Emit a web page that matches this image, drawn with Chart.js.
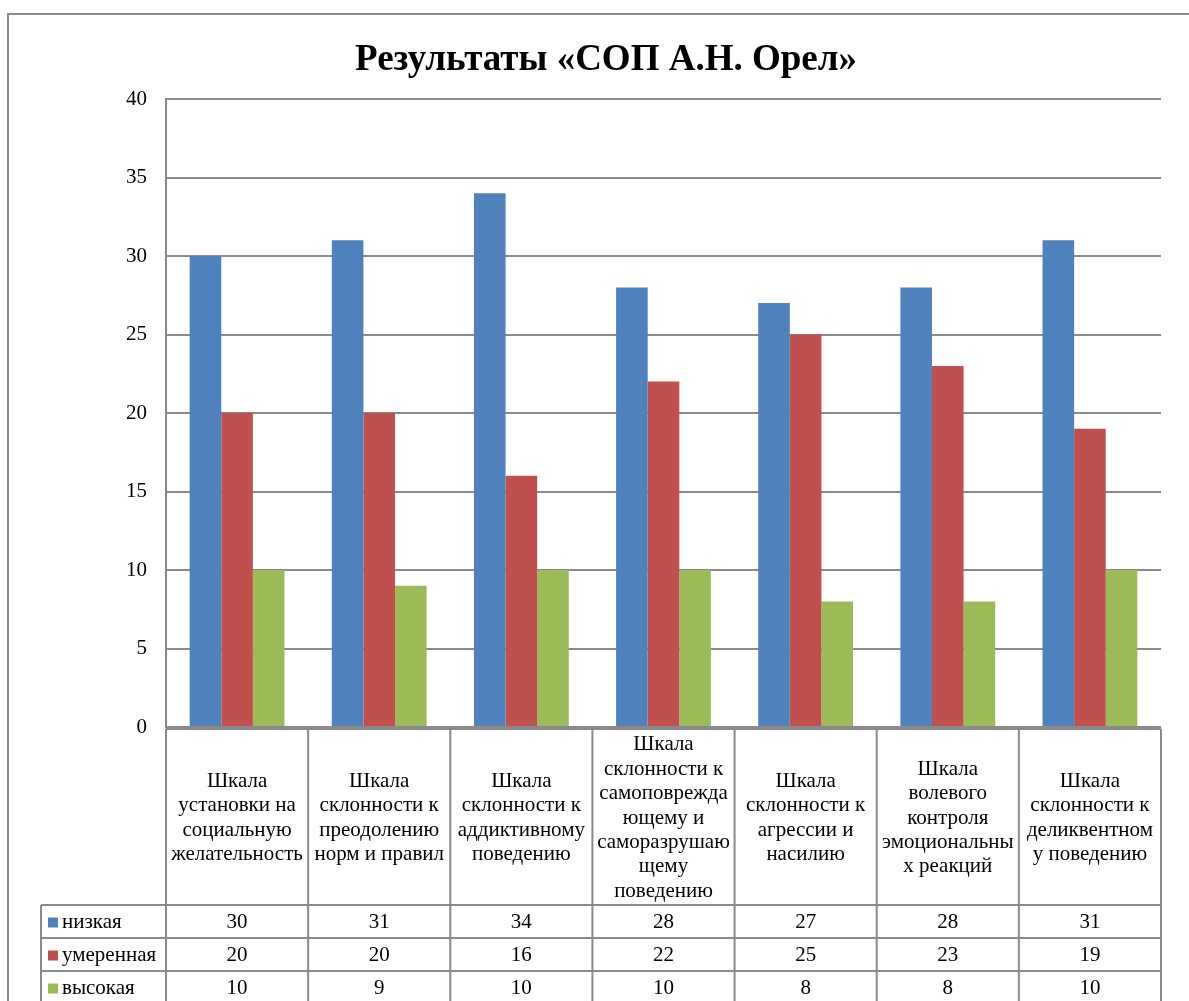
<!DOCTYPE html>
<html>
<head>
<meta charset="utf-8">
<script src="https://cdn.jsdelivr.net/npm/chart.js@4"></script>
<style>
  html, body { margin: 0; padding: 0; background: #fff; }
  #wrap { width: 1189px; height: 1001px; }
</style>
</head>
<body>
<div id="wrap"><canvas id="chart" width="1189" height="1001"></canvas></div>
<script>
var chartTitle = 'Результаты «СОП А.Н. Орел»';

var categories = [
  ['Шкала', 'установки на', 'социальную', 'желательность'],
  ['Шкала', 'склонности к', 'преодолению', 'норм и правил'],
  ['Шкала', 'склонности к', 'аддиктивному', 'поведению'],
  ['Шкала', 'склонности к', 'самоповрежда', 'ющему и', 'саморазрушаю', 'щему', 'поведению'],
  ['Шкала', 'склонности к', 'агрессии и', 'насилию'],
  ['Шкала', 'волевого', 'контроля', 'эмоциональны', 'х реакций'],
  ['Шкала', 'склонности к', 'деликвентном', 'у поведению']
];

var seriesNames = ['низкая', 'умеренная', 'высокая'];
var lowValues = [30, 31, 34, 28, 27, 28, 31];
var moderateValues = [20, 20, 16, 22, 25, 23, 19];
var highValues = [10, 9, 10, 10, 8, 8, 10];

var seriesColors = ['#4F81BD', '#C0504D', '#9BBB59'];
var lineColor = '#8a8a8a';
var fontFamily = "'Liberation Serif', 'Times New Roman', serif";

// title, outer frame and the data table under the plot
var tablePlugin = {
  id: 'dataTable',
  afterDraw: function(chart) {
    var ctx = chart.ctx;
    var xs = chart.scales.x;
    var area = chart.chartArea;
    var n = categories.length;
    var half = (xs.getPixelForValue(1) - xs.getPixelForValue(0)) / 2;
    var headTop = area.bottom + 2;
    var headBottom = 905;
    var rowH = 33;
    var legendLeft = 41;

    ctx.save();
    ctx.strokeStyle = lineColor;
    ctx.lineWidth = 2;

    // outer frame
    ctx.beginPath();
    ctx.moveTo(8, 1001);
    ctx.lineTo(8, 14);
    ctx.lineTo(1189, 14);
    ctx.stroke();

    // title
    ctx.fillStyle = '#000';
    ctx.font = 'bold 37px ' + fontFamily;
    ctx.textAlign = 'center';
    ctx.textBaseline = 'middle';
    ctx.fillText(chartTitle, 606, 60);

    // table lines
    ctx.beginPath();
    ctx.moveTo(area.left, headTop);
    ctx.lineTo(area.right, headTop);
    ctx.moveTo(legendLeft, headBottom);
    ctx.lineTo(area.right, headBottom);
    for (var r = 1; r <= 3; r++) {
      ctx.moveTo(legendLeft, headBottom + rowH * r);
      ctx.lineTo(area.right, headBottom + rowH * r);
    }
    ctx.moveTo(legendLeft, headBottom);
    ctx.lineTo(legendLeft, 1001);
    for (var i = 0; i < n; i++) {
      var x0 = xs.getPixelForValue(i) - half;
      ctx.moveTo(x0, headTop);
      ctx.lineTo(x0, 1001);
    }
    ctx.moveTo(area.right, headTop);
    ctx.lineTo(area.right, 1001);
    ctx.stroke();

    // header labels
    ctx.font = '21px ' + fontFamily;
    ctx.fillStyle = '#000';
    var lh = 24.4;
    var headMid = (headTop + headBottom) / 2 + 1;
    for (var c = 0; c < n; c++) {
      var lines = categories[c];
      var cx = xs.getPixelForValue(c);
      var startY = headMid - (lines.length - 1) * lh / 2;
      for (var k = 0; k < lines.length; k++) {
        ctx.fillText(lines[k], cx, startY + k * lh);
      }
    }

    // value rows with legend keys
    chart.data.datasets.forEach(function(ds, d) {
      var cy = headBottom + rowH * d + rowH / 2 + 1;
      ctx.fillStyle = ds.backgroundColor;
      ctx.fillRect(48, cy - 5, 10, 10);
      ctx.fillStyle = '#000';
      ctx.textAlign = 'left';
      ctx.fillText(ds.label, 62, cy);
      ctx.textAlign = 'center';
      ds.data.forEach(function(v, j) {
        ctx.fillText(String(v), xs.getPixelForValue(j), cy);
      });
    });
    ctx.restore();
  }
};

var ctx = document.getElementById('chart').getContext('2d');
new Chart(ctx, {
  type: 'bar',
  data: {
    labels: categories,
    datasets: [
      { label: seriesNames[0], data: lowValues, backgroundColor: seriesColors[0] },
      { label: seriesNames[1], data: moderateValues, backgroundColor: seriesColors[1] },
      { label: seriesNames[2], data: highValues, backgroundColor: seriesColors[2] }
    ]
  },
  options: {
    responsive: false,
    animation: false,
    devicePixelRatio: 1,
    layout: {
      padding: { left: 0, right: 28, top: 99, bottom: 274 }
    },
    datasets: {
      bar: { categoryPercentage: 0.667, barPercentage: 1.0 }
    },
    plugins: {
      legend: { display: false },
      title: { display: false },
      tooltip: { enabled: false }
    },
    scales: {
      x: {
        display: false
      },
      y: {
        min: 0,
        max: 40,
        ticks: {
          stepSize: 5,
          padding: 19,
          color: '#000',
          font: { family: fontFamily, size: 21 }
        },
        grid: {
          color: lineColor,
          lineWidth: 2,
          drawTicks: false
        },
        border: { color: lineColor, width: 2 },
        afterFit: function(scale) { scale.width = 166; }
      }
    }
  },
  plugins: [tablePlugin]
});
</script>
</body>
</html>
